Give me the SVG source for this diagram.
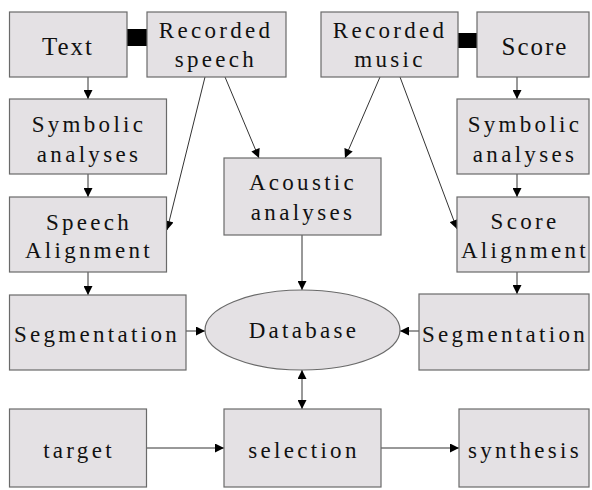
<svg xmlns="http://www.w3.org/2000/svg" width="592" height="490" viewBox="0 0 592 490">
  <defs>
    <marker id="arr" viewBox="0 0 10 10" refX="10" refY="5" markerWidth="10" markerHeight="9" markerUnits="userSpaceOnUse" orient="auto-start-reverse">
      <path d="M0,0 L10,5 L0,10 Z" fill="#000"/>
    </marker>
    <style>
      .box { fill: #e4e1e4; stroke: #6a6a6a; stroke-width: 1.2; }
      .lbl { font-family: 'Liberation Serif', 'DejaVu Serif', serif; font-size: 23px; letter-spacing: 3.3px; fill: #111; text-anchor: middle; }
      .big { font-size: 25px; letter-spacing: 2px; }
      .edge { stroke: #333; stroke-width: 1; fill: none; }
      .bar { fill: #000; }
    </style>
  </defs>

  <rect width="592" height="490" fill="#fff"/>

  <!-- connectors -->
  <g id="connectors">
    <rect class="bar" x="127" y="29" width="20" height="17"/>
    <rect class="bar" x="458" y="33" width="19" height="15"/>
    <line class="edge" x1="88" y1="77" x2="88" y2="99" marker-end="url(#arr)"/>
    <line class="edge" x1="88" y1="174" x2="88" y2="197" marker-end="url(#arr)"/>
    <line class="edge" x1="88" y1="272" x2="88" y2="295" marker-end="url(#arr)"/>
    <line class="edge" x1="517" y1="77" x2="517" y2="99" marker-end="url(#arr)"/>
    <line class="edge" x1="517" y1="174" x2="517" y2="197" marker-end="url(#arr)"/>
    <line class="edge" x1="517" y1="272" x2="517" y2="294" marker-end="url(#arr)"/>
    <line class="edge" x1="205" y1="77" x2="167" y2="230" marker-end="url(#arr)"/>
    <line class="edge" x1="225" y1="77" x2="259" y2="158" marker-end="url(#arr)"/>
    <line class="edge" x1="380" y1="77" x2="345" y2="158" marker-end="url(#arr)"/>
    <line class="edge" x1="400" y1="77" x2="457" y2="229" marker-end="url(#arr)"/>
    <line class="edge" x1="302" y1="235" x2="302" y2="290" marker-end="url(#arr)"/>
    <line class="edge" x1="186" y1="331" x2="205" y2="331" marker-end="url(#arr)"/>
    <line class="edge" x1="419" y1="331" x2="400" y2="331" marker-end="url(#arr)"/>
    <line class="edge" x1="302" y1="370" x2="302" y2="409" marker-start="url(#arr)" marker-end="url(#arr)"/>
    <line class="edge" x1="147" y1="448" x2="224" y2="448" marker-end="url(#arr)"/>
    <line class="edge" x1="381" y1="448" x2="459" y2="448" marker-end="url(#arr)"/>
  </g>

  <!-- speech column -->
  <g id="text">
    <rect class="box" x="9.5" y="12" width="117.5" height="65"/>
    <text class="lbl big" x="68" y="55">Text</text>
  </g>
  <g id="recorded-speech">
    <rect class="box" x="147" y="12" width="139" height="65"/>
    <text class="lbl" x="216" y="38">Recorded</text>
    <text class="lbl" x="216" y="67">speech</text>
  </g>
  <g id="symbolic-speech">
    <rect class="box" x="9.5" y="99" width="157" height="75"/>
    <text class="lbl" x="89" y="132">Symbolic</text>
    <text class="lbl" x="89" y="162">analyses</text>
  </g>
  <g id="speech-alignment">
    <rect class="box" x="9.5" y="197" width="157" height="75"/>
    <text class="lbl" x="89" y="230">Speech</text>
    <text class="lbl" x="89" y="258">Alignment</text>
  </g>
  <g id="segmentation-speech">
    <rect class="box" x="9.5" y="295" width="176.5" height="75"/>
    <text class="lbl" x="97" y="342">Segmentation</text>
  </g>

  <!-- centre column -->
  <g id="acoustic">
    <rect class="box" x="224" y="158" width="157" height="77"/>
    <text class="lbl" x="303" y="190">Acoustic</text>
    <text class="lbl" x="303" y="220">analyses</text>
  </g>
  <g id="database">
    <ellipse class="box" cx="302.5" cy="330" rx="97.5" ry="40"/>
    <text class="lbl" x="304" y="338">Database</text>
  </g>

  <!-- music column -->
  <g id="recorded-music">
    <rect class="box" x="321" y="12" width="137" height="65"/>
    <text class="lbl" x="390" y="38">Recorded</text>
    <text class="lbl" x="390" y="67">music</text>
  </g>
  <g id="score">
    <rect class="box" x="477" y="12" width="112" height="65"/>
    <text class="lbl big" x="535" y="55">Score</text>
  </g>
  <g id="symbolic-music">
    <rect class="box" x="457" y="99" width="132" height="75"/>
    <text class="lbl" x="525" y="132">Symbolic</text>
    <text class="lbl" x="525" y="162">analyses</text>
  </g>
  <g id="score-alignment">
    <rect class="box" x="457" y="197" width="132" height="75"/>
    <text class="lbl" x="525" y="229">Score</text>
    <text class="lbl" x="525" y="258">Alignment</text>
  </g>
  <g id="segmentation-music">
    <rect class="box" x="419" y="294" width="170" height="76"/>
    <text class="lbl" x="505" y="342">Segmentation</text>
  </g>

  <!-- bottom row -->
  <g id="target">
    <rect class="box" x="9.5" y="409" width="137" height="78"/>
    <text class="lbl" x="79" y="458">target</text>
  </g>
  <g id="selection">
    <rect class="box" x="224" y="409" width="157" height="78"/>
    <text class="lbl" x="304" y="458">selection</text>
  </g>
  <g id="synthesis">
    <rect class="box" x="459" y="409" width="130" height="78"/>
    <text class="lbl" x="525" y="458">synthesis</text>
  </g>
</svg>
